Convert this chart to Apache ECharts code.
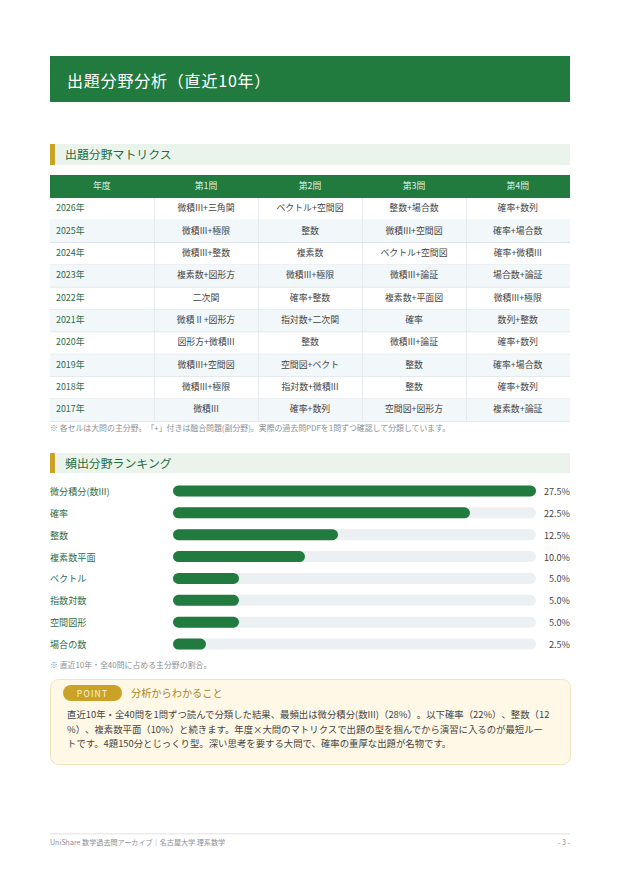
<!DOCTYPE html>
<html lang="ja"><head><meta charset="utf-8">
<style>html,body{margin:0;padding:0;background:#fff}#c{width:620px;height:877px}
#c,#c svg,#c svg text{text-spacing-trim:space-all;text-autospace:no-autospace;font-kerning:none}</style>
<script src="https://cdn.jsdelivr.net/npm/echarts@6/dist/echarts.min.js"></script>
</head><body><div id="c"></div>
<script>
const pageTitle = '出題分野分析（直近10年）';
const sectionTitles = ['出題分野マトリクス', '頻出分野ランキング'];
const tableHeaders = ['年度', '第1問', '第2問', '第3問', '第4問'];
const tableYears = ['2026年','2025年','2024年','2023年','2022年','2021年','2020年','2019年','2018年','2017年'];
const q1 = ['微積III+三角関','微積III+極限','微積III+整数','複素数+図形方','二次関','微積 II +図形方','図形方+微積III','微積III+空間図','微積III+極限','微積III'];
const q2 = ['ベクトル+空間図','整数','複素数','微積III+極限','確率+整数','指対数+二次関','整数','空間図+ベクト','指対数+微積III','確率+数列'];
const q3 = ['整数+場合数','微積III+空間図','ベクトル+空間図','微積III+論証','複素数+平面図','確率','微積III+論証','整数','整数','空間図+図形方'];
const q4 = ['確率+数列','確率+場合数','確率+微積III','場合数+論証','微積III+極限','数列+整数','確率+数列','確率+場合数','確率+数列','複素数+論証'];
const tableNote = '※ 各セルは大問の主分野。「+」付きは融合問題(副分野)。実際の過去問PDFを1問ずつ確認して分類しています。';
const rankNames = ['微分積分(数III)','確率','整数','複素数平面','ベクトル','指数対数','空間図形','場合の数'];
const rankValues = [27.5,22.5,12.5,10.0,5.0,5.0,5.0,2.5];
const rankLabels = ['27.5%','22.5%','12.5%','10.0%','5.0%','5.0%','5.0%','2.5%'];
const rankNote = '※ 直近10年・全40問に占める主分野の割合。';
const pointBadge = 'POINT';
const pointTitle = '分析からわかること';
const pointLines = ['直近10年・全40問を1問ずつ読んで分類した結果、最頻出は微分積分(数III)（28%）。以下確率（22%）、整数（12','%）、複素数平面（10%）と続きます。年度×大問のマトリクスで出題の型を掴んでから演習に入るのが最短ルー','トです。4題150分とじっくり型。深い思考を要する大問で、確率の重厚な出題が名物です。'];
const footerLeft = 'UniShare 数学過去問アーカイブ｜名古屋大学 理系数学';
const footerRight = '- 3 -';

const F = '"Noto Sans CJK JP","Noto Sans",sans-serif';
const GREEN = '#217a3e';
const els = [];
const rect = (x,y,w,h,fill,extra={}) => els.push({type:'rect',shape:{x,y,width:w,height:h,r:extra.r||0},style:{fill,stroke:extra.stroke,lineWidth:extra.lw||0},silent:true});
const text = (x,y,t,size,fill,align='left',extra={}) => els.push({type:'text',x,y,style:{text:t,font:`${extra.weight||400} ${size}px ${F}`,fill,align,verticalAlign:'middle'},silent:true});

rect(50,56,520,46,GREEN);
text(67,80,pageTitle,16,'#ffffff');

[[144,165,153],[453,473,462]].forEach((b,i)=>{
  rect(50,b[0],520,b[1]-b[0],'#eaf4ec');
  rect(50,b[0],5,b[1]-b[0],'#c9a227');
  text(65,b[2],sectionTitles[i],11.9,'#1f6b3a');
});

const colX = [50,154.5,258.5,362.5,466.5,570];
const headY = 175, headH = 23, rowH = 22.35;
rect(50,headY,520,headH,GREEN);
tableHeaders.forEach((h,i)=>text((colX[i]+colX[i+1])/2-0.5,headY+headH/2-1.5,h,8.9,'#dff0e3','center'));
const cols = [q1,q2,q3,q4];
tableYears.forEach((y,r)=>{
  const top = headY+headH+r*rowH;
  if(r%2===1) rect(50,top,520,rowH,'#f2f7fa');
  rect(50,top+rowH-0.6,520,0.8,'#dde3e8');
  for(let c=1;c<5;c++) rect(colX[c]-0.4,top,0.8,rowH,'#e3e7ec');
  text(56,top+rowH/2-1.4,y,8.9,'#2f6b45');
  cols.forEach((col,c)=>text((colX[c+1]+colX[c+2])/2-0.5,top+rowH/2-1.4,col[r],8.9,'#444444','center'));
});
text(50,427.5,tableNote,7.9,'#8a8f94');
text(50,664.5,rankNote,7.9,'#8a8f94');

rect(50.5,679.5,520,85,'#fff8e6',{r:8,stroke:'#f1e3bd',lw:1});
rect(63,685,59,16,'#c9a227',{r:8});
text(92.5,692.5,pointBadge,8.5,'#fff4d6','center');
text(131,692,pointTitle,10.2,'#a8861f');
pointLines.forEach((l,i)=>text(67,714+i*14.7,l,9.4,'#444444'));

rect(50,833.5,520,0.8,'#d8d8d8');
text(50,842,footerLeft,7.1,'#8a8f94');
text(570,842,footerRight,7.1,'#8a8f94','right');

const chart = echarts.init(document.getElementById('c'),null,{renderer:'svg'});
chart.setOption({
  animation:false,
  textStyle:{fontFamily:F},
  graphic:{elements:els},
  grid:{left:173,right:84,top:480,height:175},
  xAxis:{type:'value',min:0,max:27.5,show:false},
  yAxis:[
    {type:'category',inverse:true,data:rankNames,axisLine:{show:false},axisTick:{show:false},
     axisLabel:{align:'left',margin:123,fontSize:9.1,color:'#2f6b45',fontFamily:F,padding:[0,0,2,0]}},
    {type:'category',inverse:true,position:'right',data:rankLabels,axisLine:{show:false},axisTick:{show:false},
     axisLabel:{align:'right',margin:34,fontSize:9.1,color:'#444444',fontFamily:F,padding:[0,0,2,0]}}
  ],
  series:[{type:'bar',data:rankValues,barWidth:11,showBackground:true,
    backgroundStyle:{color:'#edf0f3',borderRadius:5.5},
    itemStyle:{color:GREEN,borderRadius:5.5}}]
});
function tweak(){
  document.querySelectorAll('#c svg text').forEach(t=>{
    if(t.textContent===pointBadge) t.style.letterSpacing='1.2px';
    if(t.textContent===pageTitle) t.style.letterSpacing='0.8px';
  });
}
tweak();
chart.on('finished',tweak);
</script></body></html>
